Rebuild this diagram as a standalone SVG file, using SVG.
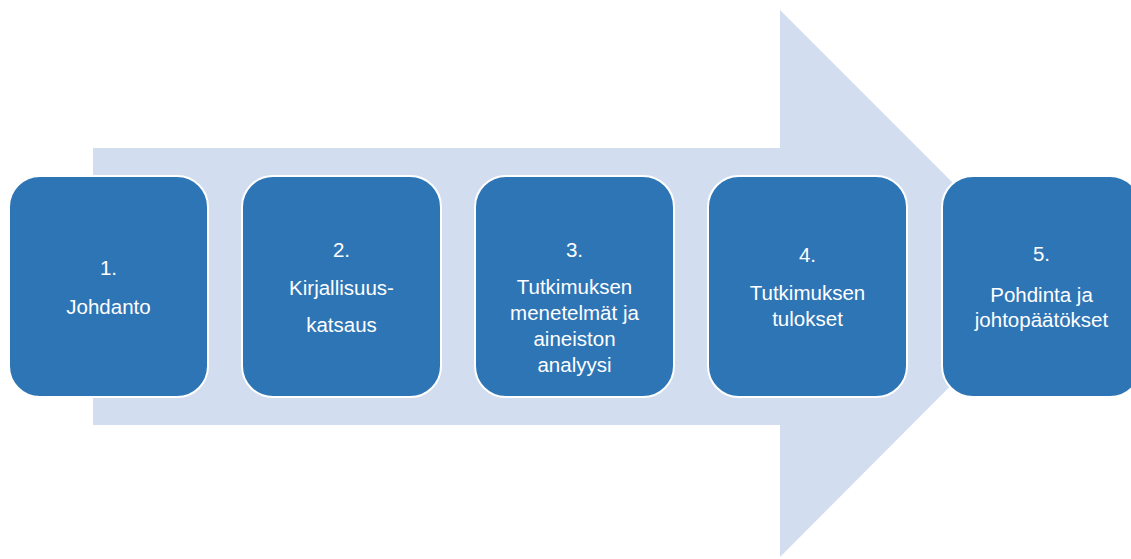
<svg xmlns="http://www.w3.org/2000/svg" width="1131" height="559" viewBox="0 0 1131 559">
<style>
.box{fill:#2E75B6;stroke:#FFFFFF;stroke-width:2}
.t{font-family:"Liberation Sans",Arial,sans-serif;font-size:20.5px;fill:#FFFFFF;text-anchor:middle}
</style>
<rect width="1131" height="559" fill="#FFFFFF"/>
<g id="arrow">
<polygon points="93,148 780,148 780,10 1053,283 780,557 780,425 93,425" fill="#D2DEEF"/>
</g>
<g id="connectors"></g>
<g id="node1">
<rect class="box" x="9" y="176" width="199" height="221" rx="31" ry="31"/>
<text class="t" x="108.5" y="275">1.</text>
<text class="t" x="108.5" y="314">Johdanto</text>
</g>
<g id="node2">
<rect class="box" x="242" y="176" width="199" height="221" rx="31" ry="31"/>
<text class="t" x="341.5" y="256.5">2.</text>
<text class="t" x="341.5" y="295">Kirjallisuus-</text>
<text class="t" x="341.5" y="332">katsaus</text>
</g>
<g id="node3">
<rect class="box" x="475" y="176" width="199" height="221" rx="31" ry="31"/>
<text class="t" x="574.5" y="256.5">3.</text>
<text class="t" x="574.5" y="294">Tutkimuksen</text>
<text class="t" x="574.5" y="320">menetelmät ja</text>
<text class="t" x="574.5" y="346">aineiston</text>
<text class="t" x="574.5" y="372">analyysi</text>
</g>
<g id="node4">
<rect class="box" x="708" y="176" width="199" height="221" rx="31" ry="31"/>
<text class="t" x="807.5" y="261.5">4.</text>
<text class="t" x="807.5" y="300">Tutkimuksen</text>
<text class="t" x="807.5" y="326">tulokset</text>
</g>
<g id="node5">
<rect class="box" x="942" y="176" width="199" height="221" rx="31" ry="31"/>
<text class="t" x="1041.5" y="261">5.</text>
<text class="t" x="1041.5" y="301.5">Pohdinta ja</text>
<text class="t" x="1041.5" y="327">johtopäätökset</text>
</g>
</svg>
